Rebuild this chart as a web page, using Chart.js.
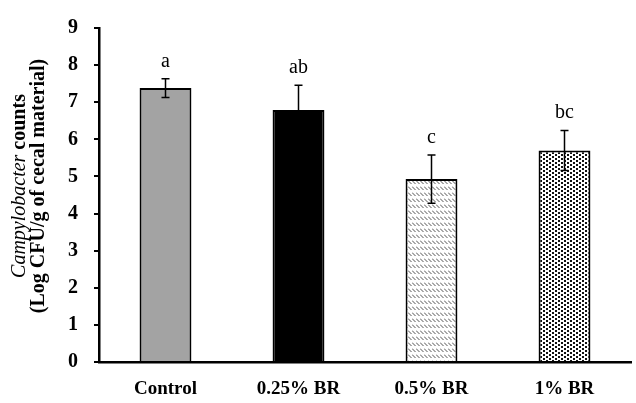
<!DOCTYPE html>
<html><head><meta charset="utf-8">
<script src="https://cdn.jsdelivr.net/npm/chart.js@4/dist/chart.umd.min.js"></script>
<style>html,body{margin:0;padding:0;background:#fff}#wrap{width:636px;height:403px}</style>
</head><body><div id="wrap"><canvas id="c" width="636" height="403"></canvas></div>
<script>
const categories = ["Control", "0.25% BR", "0.5% BR", "1% BR"];
const means = [7.38, 6.79, 4.93, 5.70];
const errors = [0.25, 0.67, 0.65, 0.54];
const letters = ["a", "ab", "c", "bc"];
const yTicks = [0, 1, 2, 3, 4, 5, 6, 7, 8, 9];

function hatchPattern() {
  const t = document.createElement('canvas'); t.width = 4; t.height = 6;
  const g = t.getContext('2d');
  g.fillStyle = '#fff'; g.fillRect(0, 0, 4, 6);
  g.strokeStyle = '#555'; g.lineWidth = 1;
  g.beginPath(); g.moveTo(0, 0.5); g.lineTo(3.5, 4); g.stroke();
  return g.createPattern(t, 'repeat');
}
function dotPattern() {
  const t = document.createElement('canvas'); t.width = 6; t.height = 4;
  const g = t.getContext('2d');
  g.fillStyle = '#fff'; g.fillRect(0, 0, 6, 4);
  g.fillStyle = '#111';
  g.fillRect(0, 0, 2, 2); g.fillRect(3, 2, 2, 2);
  return g.createPattern(t, 'repeat');
}

const serif = '"Liberation Serif", "Times New Roman", serif';

const extras = {
  id: 'extras',
  afterDatasetsDraw(chart) {
    const ctx = chart.ctx;
    const meta = chart.getDatasetMeta(0);
    const y = chart.scales.y;
    ctx.save();
    meta.data.forEach((bar, i) => {
      const x = bar.x;
      const top = y.getPixelForValue(means[i] + errors[i]);
      const bot = y.getPixelForValue(means[i] - errors[i]);
      ctx.strokeStyle = '#000'; ctx.lineWidth = 1.5;
      ctx.beginPath();
      ctx.moveTo(x, top); ctx.lineTo(x, bot);
      ctx.moveTo(x - 4, top); ctx.lineTo(x + 4, top);
      ctx.moveTo(x - 4, bot); ctx.lineTo(x + 4, bot);
      ctx.stroke();
      ctx.fillStyle = '#000';
      ctx.font = '20px ' + serif;
      ctx.textAlign = 'center'; ctx.textBaseline = 'alphabetic';
      ctx.fillText(letters[i], x, top - 12);
    });
    // y axis title, two lines rotated
    const cy = 186;
    ctx.save();
    ctx.translate(25, cy);
    ctx.rotate(-Math.PI / 2);
    ctx.textBaseline = 'alphabetic';
    ctx.fillStyle = '#000';
    const italicFont = 'italic 20px ' + serif;
    const boldFont = 'bold 20px ' + serif;
    ctx.font = italicFont; const w1 = ctx.measureText('Campylobacter').width;
    ctx.font = boldFont; const w2 = ctx.measureText(' counts').width;
    let sx = -(w1 + w2) / 2;
    ctx.textAlign = 'left';
    ctx.font = italicFont; ctx.fillText('Campylobacter', sx, 0);
    ctx.font = boldFont; ctx.fillText(' counts', sx + w1, 0);
    ctx.textAlign = 'center';
    ctx.fillText('(Log CFU/g of cecal material)', 0, 19);
    ctx.restore();
    ctx.restore();
  }
};

new Chart(document.getElementById('c'), {
  type: 'bar',
  data: {
    labels: categories,
    datasets: [{
      data: means,
      backgroundColor: ['#a3a3a3', '#000000', hatchPattern(), dotPattern()],
      borderColor: '#000',
      borderWidth: 2,
      categoryPercentage: 1,
      barPercentage: 0.39
    }]
  },
  options: {
    responsive: false,
    animation: false,
    devicePixelRatio: 1,
    layout: { padding: { left: 0, right: 5, top: 13, bottom: 0 } },
    plugins: { legend: { display: false }, tooltip: { enabled: false } },
    scales: {
      x: {
        grid: { display: false },
        border: { display: true, color: '#000', width: 2.5 },
        ticks: { color: '#000', font: { family: serif, size: 19, weight: 'bold' }, padding: 8, maxRotation: 0 },
        afterFit(s) { s.height = 41; }
      },
      y: {
        min: 0, max: 9,
        afterBuildTicks(s) { s.ticks = yTicks.map(v => ({ value: v })); },
        grid: { drawOnChartArea: false, drawTicks: true, tickLength: 5, color: '#000', lineWidth: 2 },
        border: { display: true, color: '#000', width: 2.5 },
        ticks: { color: '#000', font: { family: serif, size: 20, weight: 'bold' }, padding: 16 },
        afterFit(s) { s.width = 99; }
      }
    }
  },
  plugins: [extras]
});
</script></body></html>
